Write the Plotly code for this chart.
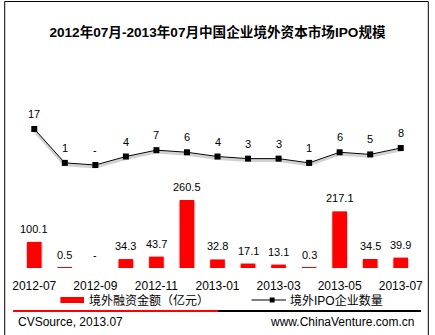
import plotly.graph_objects as go

# Monthly data, 2012-07 .. 2013-07 (None = no data, shown as "-")
months = ["2012-07", "2012-08", "2012-09", "2012-10", "2012-11", "2012-12",
          "2013-01", "2013-02", "2013-03", "2013-04", "2013-05", "2013-06", "2013-07"]
funding = [100.1, 0.5, None, 34.3, 43.7, 260.5, 32.8, 17.1, 13.1, 0.3, 217.1, 34.5, 39.9]
ipo_count = [17, 1, None, 4, 7, 6, 4, 3, 3, 1, 6, 5, 8]
tick_months = months[::2]

title_text = "2012年07月-2013年07月中国企业境外资本市场IPO规模"
bar_name = "境外融资金额（亿元）"
line_name = "境外IPO企业数量"
source_left = "CVSource, 2013.07"
source_right = "www.ChinaVenture.com.cn"

W, H = 435, 335
ML, MR, MT, MB = 16, 16, 100, 67
PW, PH = W - ML - MR, H - MT - MB

FONT = "Liberation Sans, Arial, Noto Sans CJK SC, sans-serif"
RED = "#FF0000"


def px_x(px):
    return (px - ML) / PW


def px_y(py):
    return (H - MB - py) / PH


bar_y = [v if v is not None else 0 for v in funding]
line_y = [v if v is not None else 0 for v in ipo_count]

fig = go.Figure()

# soft shadows under bars and line
fig.add_trace(go.Bar(x=months, y=bar_y, base=-5, marker=dict(color="rgba(0,0,0,0.13)", line_width=0),
                     width=0.56, hoverinfo="skip", showlegend=False))
fig.add_trace(go.Bar(x=months, y=bar_y, marker=dict(color=RED, line_width=0),
                     width=0.48, name=bar_name, showlegend=False))
fig.add_trace(go.Scatter(x=months, y=[v - 0.9 for v in line_y], yaxis="y2", mode="lines",
                         line=dict(color="rgba(0,0,0,0.18)", width=3), hoverinfo="skip",
                         showlegend=False))
fig.add_trace(go.Scatter(x=months, y=line_y, yaxis="y2", mode="lines+markers",
                         line=dict(color="#000000", width=1),
                         marker=dict(symbol="square", size=6, color="#000000"),
                         name=line_name, showlegend=False))

annotations = []
for m, v, yv in zip(months, funding, bar_y):
    annotations.append(dict(x=m, y=yv, xref="x", yref="y", text="-" if v is None else f"{v:.1f}",
                            showarrow=False, yanchor="middle", yshift=13,
                            font=dict(family=FONT, size=11, color="#000000")))
for m, v, yv in zip(months, ipo_count, line_y):
    annotations.append(dict(x=m, y=yv, xref="x", yref="y2", text="-" if v is None else str(v),
                            showarrow=False, yanchor="middle", yshift=15,
                            font=dict(family=FONT, size=11, color="#000000")))

# legend
annotations.append(dict(x=px_x(85), y=px_y(300), xref="paper", yref="paper", text=bar_name,
                        showarrow=False, xanchor="left", yanchor="middle",
                        font=dict(family=FONT, size=12, color="#000000")))
annotations.append(dict(x=px_x(289), y=px_y(300), xref="paper", yref="paper", text=line_name,
                        showarrow=False, xanchor="left", yanchor="middle",
                        font=dict(family=FONT, size=12, color="#000000")))
# footer
annotations.append(dict(x=px_x(13), y=px_y(322), xref="paper", yref="paper", text=source_left,
                        showarrow=False, xanchor="left", yanchor="middle",
                        font=dict(family=FONT, size=12, color="#000000")))
annotations.append(dict(x=px_x(419), y=px_y(322), xref="paper", yref="paper", text=source_right,
                        showarrow=False, xanchor="right", yanchor="middle",
                        font=dict(family=FONT, size=12, color="#000000")))

shapes = [
    # outer frame
    dict(type="rect", xref="paper", yref="paper", x0=px_x(1.5), x1=px_x(431.5),
         y0=px_y(1.5), y1=px_y(345), line=dict(color="#000000", width=1)),
    # footer separator
    dict(type="line", xref="paper", yref="paper", x0=px_x(10), x1=px_x(218),
         y0=px_y(311), y1=px_y(311), line=dict(color=RED, width=2)),
    dict(type="line", xref="paper", yref="paper", x0=px_x(218), x1=px_x(424),
         y0=px_y(311), y1=px_y(311), line=dict(color="#000000", width=2)),
    # legend swatches
    dict(type="rect", xref="paper", yref="paper", x0=px_x(58), x1=px_x(82),
         y0=px_y(297), y1=px_y(303), fillcolor=RED, line_width=0),
    dict(type="line", xref="paper", yref="paper", x0=px_x(252), x1=px_x(287),
         y0=px_y(300), y1=px_y(300), line=dict(color="#000000", width=1)),
    dict(type="rect", xref="paper", yref="paper", x0=px_x(270.5), x1=px_x(275.5),
         y0=px_y(297.5), y1=px_y(302.5), fillcolor="#000000", line_width=0),
]

fig.update_layout(
    width=W, height=H,
    margin=dict(l=ML, r=MR, t=MT, b=MB, pad=0),
    paper_bgcolor="#FFFFFF", plot_bgcolor="#FFFFFF",
    barmode="overlay",
    showlegend=False,
    title=dict(text=f"<b>{title_text}</b>", x=0.5, xref="container", xanchor="center",
               y=1 - 32 / H, yref="container", yanchor="middle",
               font=dict(family=FONT, size=13.6, color="#000000")),
    xaxis=dict(type="category", categoryorder="array", categoryarray=months,
               range=[-0.5, len(months) - 0.5], tickmode="array", tickvals=tick_months,
               ticktext=tick_months, showgrid=False, zeroline=False, showline=False,
               ticks="", ticklabelstandoff=9,
               tickfont=dict(family=FONT, size=12, color="#000000")),
    yaxis=dict(range=[0, PH / 0.261], visible=False, fixedrange=True),
    yaxis2=dict(range=[-103 / 2.12, 65 / 2.12], overlaying="y", visible=False),
    annotations=annotations,
    shapes=shapes,
)

fig.write_html("out.html")
